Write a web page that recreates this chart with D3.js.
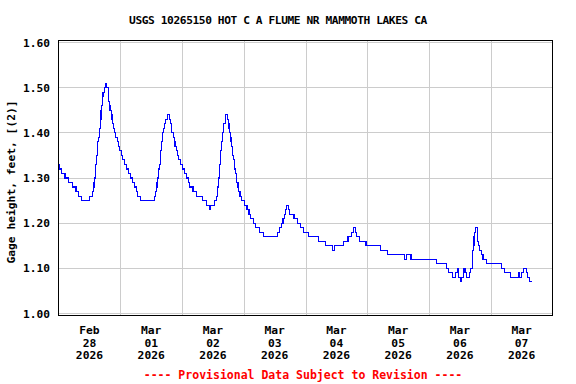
<!DOCTYPE html>
<html><head><meta charset="utf-8">
<script src="https://cdn.jsdelivr.net/npm/d3@7"></script>
<style>body{margin:0;background:#fff}svg{display:block}</style>
</head><body><svg id="c" width="576" height="384"></svg>
<script>
const chartTitle = "USGS 10265150 HOT C A FLUME NR MAMMOTH LAKES CA";
const yAxisLabel = "Gage height, feet, [(2)]";
const footerNote = "---- Provisional Data Subject to Revision ----";
const yTickValues = [1.00, 1.10, 1.20, 1.30, 1.40, 1.50, 1.60];
const dayLabels = ["2026-02-28","2026-03-01","2026-03-02","2026-03-03","2026-03-04","2026-03-05","2026-03-06","2026-03-07"];
const domainStart = "2026-02-28 00:00", domainEnd = "2026-03-08 00:00";

// change points of the 15-minute gage height record (step series)
const obsTimes = [
"2026-02-28 00:00","2026-02-28 00:15","2026-02-28 01:15","2026-02-28 02:30","2026-02-28 04:00","2026-02-28 05:15","2026-02-28 06:45","2026-02-28 07:45","2026-02-28 09:00","2026-02-28 12:00",
"2026-02-28 13:15","2026-02-28 13:30","2026-02-28 13:45","2026-02-28 14:00","2026-02-28 14:15","2026-02-28 14:30","2026-02-28 14:45","2026-02-28 15:00","2026-02-28 15:15","2026-02-28 15:30",
"2026-02-28 15:45","2026-02-28 16:00","2026-02-28 16:15","2026-02-28 16:30","2026-02-28 16:45","2026-02-28 17:00","2026-02-28 17:15","2026-02-28 17:45","2026-02-28 18:15","2026-02-28 18:45",
"2026-02-28 19:15","2026-02-28 19:30","2026-02-28 19:45","2026-02-28 20:00","2026-02-28 20:30","2026-02-28 20:45","2026-02-28 21:00","2026-02-28 21:15","2026-02-28 21:45","2026-02-28 22:15",
"2026-02-28 22:45","2026-02-28 23:15","2026-02-28 23:45",
"2026-03-01 00:30","2026-03-01 01:00","2026-03-01 01:45","2026-03-01 02:30","2026-03-01 03:15","2026-03-01 04:00","2026-03-01 04:45","2026-03-01 05:30","2026-03-01 06:15","2026-03-01 06:45",
"2026-03-01 07:45","2026-03-01 13:15","2026-03-01 13:45","2026-03-01 14:00","2026-03-01 14:15","2026-03-01 14:30","2026-03-01 14:45","2026-03-01 15:00","2026-03-01 15:15","2026-03-01 15:30",
"2026-03-01 15:45","2026-03-01 16:00","2026-03-01 16:15","2026-03-01 16:30","2026-03-01 16:45","2026-03-01 17:00","2026-03-01 17:30","2026-03-01 18:15","2026-03-01 19:15","2026-03-01 19:30",
"2026-03-01 19:45","2026-03-01 20:00","2026-03-01 20:30","2026-03-01 21:00","2026-03-01 21:15","2026-03-01 21:45","2026-03-01 22:15","2026-03-01 22:45","2026-03-01 23:15",
"2026-03-02 00:00","2026-03-02 01:00","2026-03-02 01:45","2026-03-02 02:30","2026-03-02 03:00","2026-03-02 04:15","2026-03-02 05:30","2026-03-02 08:00","2026-03-02 09:30","2026-03-02 10:30",
"2026-03-02 11:00","2026-03-02 12:30","2026-03-02 13:15","2026-03-02 13:45","2026-03-02 14:00","2026-03-02 14:30","2026-03-02 15:00","2026-03-02 15:30","2026-03-02 15:45","2026-03-02 16:15",
"2026-03-02 16:45","2026-03-02 17:00","2026-03-02 17:45","2026-03-02 18:00","2026-03-02 18:15","2026-03-02 18:30","2026-03-02 18:45","2026-03-02 19:00","2026-03-02 19:15","2026-03-02 19:30",
"2026-03-02 19:45","2026-03-02 20:00","2026-03-02 20:15","2026-03-02 20:30","2026-03-02 20:45","2026-03-02 21:00","2026-03-02 21:15","2026-03-02 21:45","2026-03-02 22:00","2026-03-02 22:30",
"2026-03-02 23:00",
"2026-03-03 00:15","2026-03-03 01:15","2026-03-03 02:00","2026-03-03 02:45","2026-03-03 03:45","2026-03-03 04:30","2026-03-03 06:15","2026-03-03 07:30","2026-03-03 13:15","2026-03-03 14:00",
"2026-03-03 14:45","2026-03-03 15:15","2026-03-03 15:45","2026-03-03 16:15","2026-03-03 16:45","2026-03-03 17:15","2026-03-03 17:45","2026-03-03 19:30","2026-03-03 20:45","2026-03-03 22:00",
"2026-03-03 23:15",
"2026-03-04 01:15","2026-03-04 05:00","2026-03-04 07:45","2026-03-04 10:30","2026-03-04 11:15","2026-03-04 14:45","2026-03-04 16:30","2026-03-04 17:45","2026-03-04 18:45","2026-03-04 19:15",
"2026-03-04 19:45","2026-03-04 21:00","2026-03-04 23:30",
"2026-03-05 05:00","2026-03-05 07:45","2026-03-05 14:30","2026-03-05 15:15","2026-03-05 17:00",
"2026-03-06 03:00","2026-03-06 06:45","2026-03-06 07:30","2026-03-06 09:00","2026-03-06 10:15","2026-03-06 11:00","2026-03-06 11:30","2026-03-06 12:15","2026-03-06 12:45","2026-03-06 13:15",
"2026-03-06 14:00","2026-03-06 14:30","2026-03-06 15:45","2026-03-06 16:15","2026-03-06 16:45","2026-03-06 17:00","2026-03-06 17:15","2026-03-06 17:30","2026-03-06 17:45","2026-03-06 18:00",
"2026-03-06 18:45","2026-03-06 19:00","2026-03-06 19:15","2026-03-06 19:45","2026-03-06 20:15","2026-03-06 21:00","2026-03-06 22:30",
"2026-03-07 04:00","2026-03-07 05:15","2026-03-07 07:45","2026-03-07 10:45","2026-03-07 11:15","2026-03-07 12:00","2026-03-07 12:45","2026-03-07 13:45","2026-03-07 14:15","2026-03-07 15:00",
"2026-03-07 16:00"
];
const gageHeight = [
1.33,1.32,1.31,1.30,1.29,1.28,1.27,1.26,1.25,1.26,
1.27,1.28,1.29,1.30,1.31,1.33,1.35,1.37,1.38,1.39,
1.40,1.41,1.43,1.45,1.46,1.48,1.49,1.50,1.51,1.50,
1.48,1.47,1.46,1.45,1.44,1.43,1.42,1.41,1.40,1.39,
1.38,1.37,1.36,
1.35,1.34,1.33,1.32,1.31,1.30,1.29,1.28,1.27,1.26,
1.25,1.26,1.27,1.28,1.29,1.30,1.31,1.32,1.33,1.34,
1.36,1.38,1.39,1.40,1.41,1.42,1.43,1.44,1.43,1.42,
1.41,1.40,1.39,1.38,1.37,1.36,1.35,1.34,1.33,
1.32,1.31,1.30,1.29,1.28,1.27,1.26,1.25,1.24,1.23,
1.24,1.25,1.26,1.28,1.30,1.33,1.36,1.38,1.40,1.42,
1.43,1.44,1.43,1.42,1.41,1.40,1.39,1.38,1.37,1.36,
1.35,1.34,1.33,1.32,1.31,1.30,1.29,1.28,1.27,1.26,
1.25,
1.24,1.23,1.22,1.21,1.20,1.19,1.18,1.17,1.18,1.19,
1.20,1.21,1.22,1.23,1.24,1.23,1.22,1.21,1.20,1.19,
1.18,
1.17,1.16,1.15,1.14,1.15,1.16,1.17,1.18,1.19,1.18,
1.17,1.16,1.15,
1.14,1.13,1.12,1.13,1.12,
1.11,1.10,1.09,1.08,1.09,1.10,1.08,1.07,1.08,1.10,
1.09,1.08,1.09,1.10,1.12,1.14,1.15,1.17,1.18,1.19,
1.18,1.16,1.15,1.14,1.13,1.12,1.11,
1.10,1.09,1.08,1.09,1.08,1.09,1.10,1.09,1.08,1.07,
1.07
];

const parseT = d3.timeParse("%Y-%m-%d %H:%M");
const parseD = d3.timeParse("%Y-%m-%d");
const series = obsTimes.map((t, i) => ({t: parseT(t), v: gageHeight[i]}));

const svg = d3.select("#c");
const font = "'DejaVu Sans Mono', monospace";
const L = 58, R = 552, T = 40, B = 315;

const x = d3.scaleTime().domain([parseT(domainStart), parseT(domainEnd)]).range([L + 0.6, R + 0.5]);
const y = d3.scaleLinear().domain([1.0, 1.6]).range([313.5, 42.5]);

// grid
const grid = svg.append("g").attr("shape-rendering", "crispEdges").attr("stroke", "#cccccc").attr("stroke-width", 1);
grid.selectAll("line.h").data(yTickValues).join("line")
  .attr("x1", L).attr("x2", R).attr("y1", d => Math.floor(y(d)) + 0.5).attr("y2", d => Math.floor(y(d)) + 0.5);
const midnights = dayLabels.slice(1).map(parseD);
grid.selectAll("line.v").data(midnights).join("line")
  .attr("x1", d => Math.round(x(d)) + 0.5).attr("x2", d => Math.round(x(d)) + 0.5).attr("y1", T).attr("y2", B);

// data line
const line = d3.line().x(d => x(d.t)).y(d => y(d.v)).curve(d3.curveStepAfter);
svg.append("path").datum(series).attr("d", line)
  .attr("fill", "none").attr("stroke", "#0000ff").attr("stroke-width", 1.1).attr("shape-rendering", "crispEdges");

// frame
svg.append("rect").attr("x", L + 0.5).attr("y", T + 0.5).attr("width", R - L).attr("height", B - T)
  .attr("fill", "none").attr("stroke", "#000").attr("stroke-width", 1).attr("shape-rendering", "crispEdges");

// title
svg.append("text").attr("x", 278).attr("y", 24).attr("text-anchor", "middle")
  .attr("font-family", font).attr("font-weight", "bold").attr("font-size", 11.2).attr("letter-spacing", -0.4)
  .attr("fill", "#000").text(chartTitle);

// y tick labels
svg.append("g").selectAll("text").data(yTickValues).join("text")
  .attr("x", 50).attr("y", d => y(d) + 4).attr("text-anchor", "end")
  .attr("font-family", font).attr("font-weight", "bold").attr("font-size", 11.2)
  .attr("fill", "#000").text(d => d3.format(".2f")(d));

// y axis label
svg.append("text").attr("transform", "translate(15,182) rotate(-90)").attr("text-anchor", "middle")
  .attr("font-family", font).attr("font-weight", "bold").attr("font-size", 11.3)
  .attr("fill", "#000").text(yAxisLabel);

// x tick labels (centered on noon of each day)
const fmtM = d3.timeFormat("%b"), fmtD = d3.timeFormat("%d"), fmtY = d3.timeFormat("%Y");
const xl = svg.append("g").selectAll("text").data(dayLabels.map(parseD)).join("text")
  .attr("font-family", font).attr("font-weight", "bold").attr("font-size", 11.3)
  .attr("text-anchor", "middle").attr("fill", "#000");
xl.each(function(d) {
  const cx = x(d3.timeHour.offset(d, 12));
  const s = d3.select(this);
  [fmtM(d), fmtD(d), fmtY(d)].forEach((txt, i) => {
    s.append("tspan").attr("x", cx).attr("y", 334 + i * 12.6).text(txt);
  });
});

// footer
svg.append("text").attr("x", 303).attr("y", 379).attr("text-anchor", "middle")
  .attr("font-family", font).attr("font-weight", "bold").attr("font-size", 11.5)
  .attr("fill", "#ff0000").text(footerNote);
</script>
</body></html>
